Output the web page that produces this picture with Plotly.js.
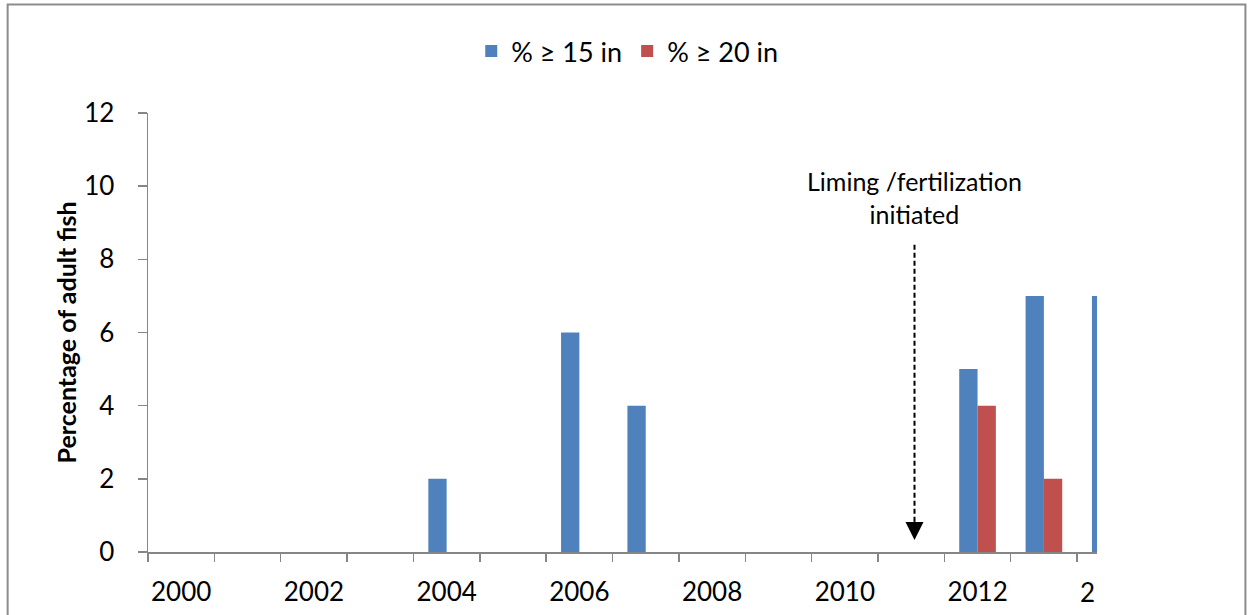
<!DOCTYPE html>
<html>
<head>
<meta charset="utf-8">
<script src="https://cdn.plot.ly/plotly-3.0.1.min.js"></script>
<style>
  html, body { margin: 0; padding: 0; background: #ffffff; }
  #chart { width: 1253px; height: 615px; }
</style>
</head>
<body>
<div id="chart"></div>
<script>
// ---- data ----
const years = [2000, 2001, 2002, 2003, 2004, 2005, 2006, 2007, 2008, 2009, 2010, 2011, 2012, 2013, 2014];
const pct15 = [0, 0, 0, 0, 2, 0, 6, 4, 0, 0, 0, 0, 5, 7, 7];
const pct20 = [0, 0, 0, 0, 0, 0, 0, 0, 0, 0, 0, 0, 4, 2, null];
const seriesNames = ['% \u2265 15 in', '% \u2265 20 in'];
const xTickVals = [2000, 2002, 2004, 2006, 2008, 2010, 2012];
const xTickText = ['2000', '2002', '2004', '2006', '2008', '2010', '2012'];
const clippedLabel = '2';
const yTickVals = [0, 2, 4, 6, 8, 10, 12];
const yTitle = 'Percentage of adult fish';
const noteText = 'Liming /fertilization<br>initiated';
const noteYear = 2011.05;

const FONT = 'Lato, "Open Sans", "DejaVu Sans", sans-serif';
const AXIS = '#868686';

const traces = [
  {
    type: 'bar', x: years, y: pct15, name: seriesNames[0],
    marker: { color: '#4F81BD', line: { width: 0 } }
  },
  {
    type: 'bar', x: years, y: pct20, name: seriesNames[1],
    marker: { color: '#C0504D', line: { width: 0 } }
  }
];

const layout = {
  width: 1253, height: 615,
  margin: { l: 148.3, r: 156.3, t: 113.3, b: 63.3, pad: 0 },
  paper_bgcolor: '#ffffff', plot_bgcolor: '#ffffff',
  font: { family: FONT, size: 26, color: '#000000' },
  barmode: 'group', bargap: 0.448, bargroupgap: 0,
  showlegend: true,
  legend: {
    orientation: 'h', x: 0.505, xanchor: 'center', y: 1.14, yanchor: 'middle',
    font: { family: FONT, size: 27, color: '#000000' },
    bgcolor: 'rgba(0,0,0,0)', traceorder: 'normal', itemwidth: 30
  },
  xaxis: {
    type: 'linear', range: [1999.5, 2013.8], fixedrange: true,
    tickmode: 'array', tickvals: xTickVals, ticktext: xTickText,
    ticks: '', showgrid: false, zeroline: false,
    showline: true, linecolor: AXIS, linewidth: 1.5,
    tickfont: { family: FONT, size: 26, color: '#000000' },
    ticklabelstandoff: 16,
    minor: { tickmode: 'linear', tick0: 1999.5, dtick: 1, ticks: 'outside', ticklen: 8, tickwidth: 1.5, tickcolor: AXIS, showgrid: false }
  },
  yaxis: {
    range: [0, 12], fixedrange: true,
    tickmode: 'array', tickvals: yTickVals,
    ticks: 'outside', ticklen: 9, tickwidth: 1.5, tickcolor: AXIS,
    showgrid: false, zeroline: false,
    showline: true, linecolor: AXIS, linewidth: 1.5,
    tickfont: { family: FONT, size: 26, color: '#000000' },
    ticklabelstandoff: 18,
    title: { text: '<b>' + yTitle + '</b>', font: { family: FONT, size: 25, color: '#000000' }, standoff: 0 },
    automargin: false
  },
  shapes: [
    // outer chart border
    { type: 'rect', xref: 'paper', yref: 'paper', x0: -0.1479, x1: 1.1564, y0: -0.3, y1: 1.2470,
      line: { color: '#8C8C8C', width: 2 }, fillcolor: 'rgba(0,0,0,0)', layer: 'above' },
    // dashed pointer line
    { type: 'line', xref: 'x', yref: 'y', x0: noteYear, x1: noteYear, y0: 8.4, y1: 0.7,
      line: { color: '#000000', width: 2, dash: '5px,3px' } }
  ],
  annotations: [
    { xref: 'x', yref: 'y', x: noteYear, y: 9.7, text: noteText, showarrow: false,
      font: { family: FONT, size: 25, color: '#000000' }, align: 'center', xanchor: 'center', yanchor: 'middle' },
    { xref: 'x', yref: 'y', x: noteYear, y: 0.33, ax: 0, ay: -20, axref: 'pixel', ayref: 'pixel', text: '',
      showarrow: true, arrowhead: 2, arrowsize: 2.4, arrowwidth: 1.5, arrowcolor: '#000000' },
    { xref: 'x', yref: 'paper', x: 2013.8, y: 0, yshift: -22, xshift: 0, text: clippedLabel, showarrow: false,
      xanchor: 'right', yanchor: 'top', font: { family: FONT, size: 26, color: '#000000' } }
  ]
};

Plotly.newPlot('chart', traces, layout, { displayModeBar: false, staticPlot: true });
</script>
</body>
</html>
